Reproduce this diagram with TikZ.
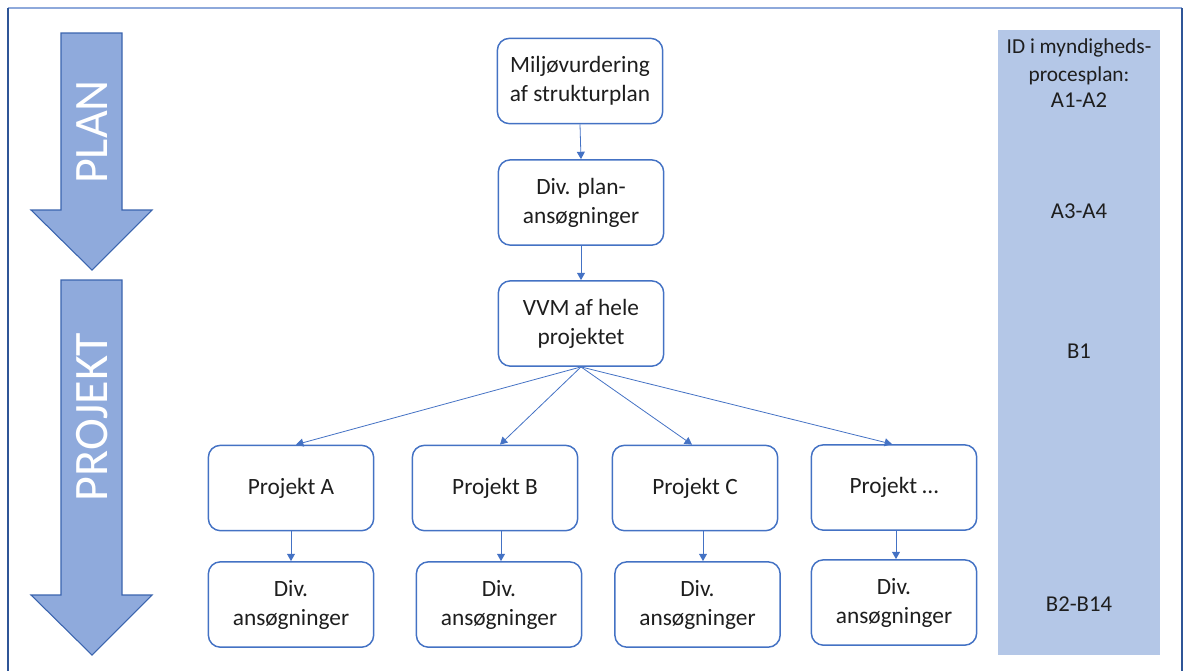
\documentclass[tikz,border=0pt]{standalone}
\usepackage{fontspec}
\setmainfont{Carlito}
\usetikzlibrary{arrows.meta}
\definecolor{nodeblue}{HTML}{4472C4}
\definecolor{arrowfill}{HTML}{8FAADC}
\definecolor{arrowline}{HTML}{3A64AE}
\definecolor{panelfill}{HTML}{B4C7E7}
\definecolor{frametop}{HTML}{8EA9DB}
\definecolor{frameside}{HTML}{2F5597}
\definecolor{txt}{HTML}{1E1E1E}
\tikzset{
  box/.style={draw=nodeblue, line width=1.1pt, rounded corners=9pt, fill=white,
    minimum width=124pt, minimum height=64pt, align=center, text=txt,
    font=\fontsize{17.5}{21.75}\selectfont, inner sep=2pt},
  conn/.style={draw=nodeblue, line width=0.6pt, -{Triangle[length=5.5pt,width=6pt]}},
  bigarrow/.style={fill=arrowfill, draw=arrowline, line width=0.8pt},
  arrowtext/.style={text=white, rotate=90, font=\fontsize{36}{36}\selectfont},
  idtext/.style={text=txt, anchor=base, font=\fontsize{16}{18}\selectfont},
  idbig/.style={text=txt, anchor=base, font=\fontsize{17}{20}\selectfont}
}
\begin{document}
\begin{tikzpicture}[x=0.75pt, y=-0.75pt]
\useasboundingbox (0,0) rectangle (1188,671);
% frame
\draw[frametop, line width=1pt] (8,8) -- (1182,8);
\draw[frameside, line width=1.1pt] (8,8) -- (8,671);
\draw[frameside, line width=1.1pt] (1182,8) -- (1182,671);
% right panel
\fill[panelfill] (998,30) rectangle (1160,655);
\node[idtext] (id1) at (1079,53) {ID i myndigheds-};
\node[idtext] (id2) at (1079,81) {procesplan:};
\node[idbig] (ida) at (1079,107) {A1-A2};
\node[idbig] (idb) at (1079,218) {A3-A4};
\node[idbig] (idc) at (1079,358) {B1};
\node[idbig] (idd) at (1079,611) {B2-B14};
% big arrows
\draw[bigarrow] (61,33) -- (122,33) -- (122,210) -- (152,210) -- (92,270) -- (31,210) -- (61,210) -- cycle;
\node[arrowtext] (plan) at (92,132) {PLAN};
\draw[bigarrow] (61,280) -- (122,280) -- (122,595) -- (152,595) -- (92,655) -- (31,595) -- (61,595) -- cycle;
\node[arrowtext] (projekt) at (92,417) {PROJEKT};
% nodes
\node[box] (m1) at (580,81) {Miljøvurdering\\af strukturplan};
\node[box] (m2) at (581,202.5) {Div. plan-\\ansøgninger};
\node[box] (m3) at (581,323.5) {VVM af hele\\projektet};
\node[box] (pA) at (291,488) {Projekt A};
\node[box] (pB) at (495,488) {Projekt B};
\node[box] (pC) at (695,488) {Projekt C};
\node[box] (pD) at (894,487.5) {Projekt …};
\node[box] (dA) at (291,604.5) {Div.\\ansøgninger};
\node[box] (dB) at (499,604.5) {Div.\\ansøgninger};
\node[box] (dC) at (697.5,604.5) {Div.\\ansøgninger};
\node[box] (dD) at (894,602.5) {Div.\\ansøgninger};
% connectors
\draw[conn] (m1.south) -- (m2.north);
\draw[conn] (m2.south) -- (m3.north);
\draw[conn] (m3.south) -- ([xshift=3.75pt]pA.north);
\draw[conn] (m3.south) -- ([xshift=3.75pt]pB.north);
\draw[conn] (m3.south) -- ([xshift=-2.25pt]pC.north);
\draw[conn] (m3.south) -- ([xshift=-1.5pt]pD.north);
\draw[conn] (pA.south) -- (pA.south |- dA.north);
\draw[conn] ([xshift=4.5pt]pB.south) -- ([xshift=4.5pt]pB.south |- dB.north);
\draw[conn] ([xshift=6pt]pC.south) -- ([xshift=6pt]pC.south |- dC.north);
\draw[conn] ([xshift=1.5pt]pD.south) -- ([xshift=1.5pt]pD.south |- dD.north);
\end{tikzpicture}
\end{document}
